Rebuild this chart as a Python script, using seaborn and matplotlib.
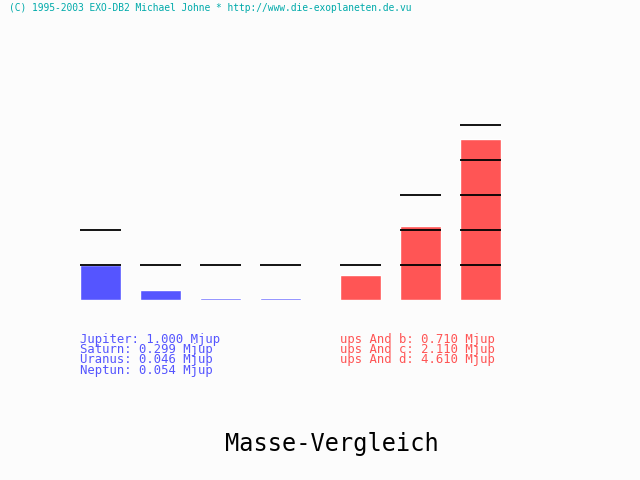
import matplotlib
matplotlib.use("Agg")
import matplotlib.pyplot as plt
import seaborn as sns
import numpy as np
import pandas as pd

# masses in Jupiter masses
planets = ["Jupiter", "Saturn", "Uranus", "Neptun"]
planet_mass = [1.000, 0.299, 0.046, 0.054]
ups_names = ["ups And b", "ups And c", "ups And d"]
ups_mass = [0.710, 2.110, 4.610]

header = "(C) 1995-2003 EXO-DB2 Michael Johne * http://www.die-exoplaneten.de.vu"
title = "Masse-Vergleich"

blue = "#5555ff"
red = "#ff5555"
cyan = "#00aaaa"
bg = "#fcfcfc"

sns.set_style("white")
plt.rcParams["font.family"] = ["DejaVu Sans Mono"]

fig = plt.figure(figsize=(6.4, 4.8), dpi=100, facecolor=bg)
bw = 41 / 60


def mass_bars(ax, names, masses, color):
    # 1 Mjup = 35 px, base at y=300 px, one slot = 60 px
    df = pd.DataFrame({"name": names, "mass": masses})
    sns.barplot(data=df, x="name", y="mass", color=color, width=bw,
                saturation=1, ax=ax)
    # black marks at each whole Mjup up to the next one above the bar
    for i, m in enumerate(masses):
        levels = np.arange(1, int(np.floor(m)) + 2)
        ax.hlines(levels, i - bw / 2, i + bw / 2, color="black", lw=1.3,
                  zorder=5)
    ax.set_xlim(-0.5, len(names) - 0.5)
    ax.set_ylim(0, 8)
    ax.set_facecolor(bg)
    ax.axis("off")


ax1 = fig.add_axes([70.5 / 640, 180 / 480, 60 * len(planets) / 640, 280 / 480])
mass_bars(ax1, planets, planet_mass, blue)
ax2 = fig.add_axes([330.5 / 640, 180 / 480, 60 * len(ups_names) / 640, 280 / 480])
mass_bars(ax2, ups_names, ups_mass, red)

fig.text(9 / 640, 1 - 8 / 480, header, color=cyan, fontsize=6.9,
         va="center", ha="left")

sol_txt = "\n".join(f"{n}: {m:.3f} Mjup" for n, m in zip(planets, planet_mass))
ups_txt = "\n".join(f"{n}: {m:.3f} Mjup" for n, m in zip(ups_names, ups_mass))
fig.text(80 / 640, 1 - 333 / 480, sol_txt, color=blue, fontsize=8.8,
         va="top", ha="left", linespacing=0.72)
fig.text(340 / 640, 1 - 333 / 480, ups_txt, color=red, fontsize=8.8,
         va="top", ha="left", linespacing=0.72)

fig.text(332 / 640, 1 - 444 / 480, title, color="black", fontsize=17,
         va="center", ha="center")

fig.savefig("out.png", dpi=100, facecolor=bg)
